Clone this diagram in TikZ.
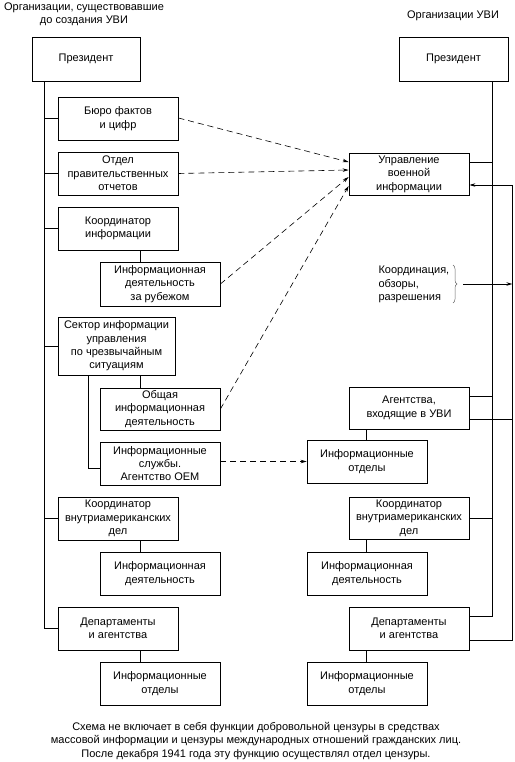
\documentclass[tikz,border=0pt]{standalone}
\usepackage{fontspec}
\setmainfont{Liberation Sans}
\usetikzlibrary{arrows.meta,decorations.pathreplacing}
\begin{document}
\begin{tikzpicture}[x=1pt,y=-1pt,
  font=\fontsize{11}{13.4}\selectfont,
  bx/.style={draw, line width=0.8pt, align=center, inner sep=0pt, minimum width=120pt, minimum height=43pt},
  ln/.style={line width=0.8pt},
  dsh/.style={line width=0.6pt, dash pattern=on 6pt off 4pt, -{Stealth[length=6pt,width=3.5pt]}},
  ar/.style={line width=0.8pt, -{Stealth[length=6pt,width=3.5pt]}}]
\useasboundingbox (0,0) rectangle (514,762);

% titles
\node[align=center] (tl) at (84,14) {Организации, существовавшие\\до создания УВИ};
\node (tr) at (453,16) {Организации УВИ};

% left column
\node[bx, minimum width=108pt, minimum height=44pt] (lp) at (86,59) {Президент};
\node[bx] (b1) at (118,118.5) {Бюро фактов\\и цифр};
\node[bx] (b2) at (118,173.5) {Отдел\\правительственных\\отчетов};
\node[bx] (b3) at (118,228.5) {Координатор\\информации};
\node[bx, minimum height=44pt] (b4) at (160,284) {Информационная\\деятельность\\за рубежом};
\node[bx, minimum width=117pt, minimum height=58pt] (b5) at (116.5,346) {Сектор информации\\управления\\по чрезвычайным\\ситуациям};
\node[bx, minimum height=42pt] (b6) at (160,409) {Общая\\информационная\\деятельность};
\node[bx] (b7) at (160,463.5) {Информационные\\службы.\\Агентство ОЕМ};
\node[bx] (b8) at (118,518.5) {Координатор\\внутриамериканских\\дел};
\node[bx] (b9) at (160,573.5) {Информационная\\деятельность};
\node[bx] (b10) at (118,628.5) {Департаменты\\и агентства};
\node[bx] (b11) at (160,683.5) {Информационные\\отделы};

% right column
\node[bx, minimum width=109pt, minimum height=44pt] (rp) at (453.5,59) {Президент};
\node[bx, minimum height=42pt] (r1) at (409,174) {Управление\\военной\\информации};
\node[bx, minimum height=42pt] (r2) at (409,408) {Агентства,\\входящие в УВИ};
\node[bx] (r3) at (367,461.5) {Информационные\\отделы};
\node[bx, minimum height=42pt] (r4) at (409,518) {Координатор\\внутриамериканских\\дел};
\node[bx] (r5) at (367,573.5) {Информационная\\деятельность};
\node[bx] (r6) at (409,628.5) {Департаменты\\и агентства};
\node[bx] (r7) at (367,683.5) {Информационные\\отделы};

% left trunk
\coordinate (tL) at ([xshift=13pt]lp.south west);
\draw[ln] (tL) |- (b10.west);
\foreach \n in {b1,b2,b3,b5,b8} \draw[ln] (tL) |- (\n.west);
\draw[ln] ([xshift=22pt]b3.south) -- ([xshift=22pt]b3.south |- b4.north);
\draw[ln] ([xshift=23.5pt]b5.south) -- ([xshift=23.5pt]b5.south |- b6.north);
\draw[ln] ([xshift=-28.5pt]b5.south) |- ([yshift=-4.5pt]b7.west);
\draw[ln] ([xshift=22pt]b8.south) -- ([xshift=22pt]b8.south |- b9.north);
\draw[ln] ([xshift=22pt]b10.south) -- ([xshift=22pt]b10.south |- b11.north);

% right trunk
\coordinate (tR) at ([xshift=-16pt]rp.south east);
\draw[ln] (tR) |- ([yshift=12.5pt]r6.east);
\draw[ln] (tR) |- ([yshift=12pt]r1.east);
\draw[ln] (tR) |- ([yshift=12pt]r2.east);
\draw[ln] (tR) |- (r4.east);
\draw[ln] ([xshift=-43pt]r2.south) -- ([xshift=-43pt]r2.south |- r3.north);
\draw[ln] ([xshift=-43pt]r4.south) -- ([xshift=-43pt]r4.south |- r5.north);
\draw[ln] ([xshift=-43pt]r6.south) -- ([xshift=-43pt]r6.south |- r7.north);

% second right line
\coordinate (rR) at ([xshift=43pt,yshift=-11pt]r1.east);
\draw[ar] (rR) -- ([yshift=-11pt]r1.east);
\draw[ln] (rR) |- ([yshift=-11.5pt]r6.east);
\draw[ln] ([yshift=-11pt]r2.east) -- ([yshift=-11pt]r2.east -| rR);

% coordination note
\node[align=left, anchor=west] (cn) at (375,284.5) {Координация,\\обзоры,\\разрешения};
\coordinate (brT) at (453,265);
\coordinate (brB) at (453,303);
\draw[decorate, decoration={brace, amplitude=4pt}, line width=0.5pt, black!60] (brT) -- (brB);
\coordinate (bt) at (463,284);
\draw[ar] (bt) -- (bt -| rR);

% dashed arrows
\draw[dsh] ([yshift=0.5pt]b1.east) -- ([yshift=12pt]r1.west);
\draw[dsh] (b2.east) -- ([yshift=4pt]r1.west);
\draw[dsh] (b4.east) -- ([yshift=-3pt]r1.west);
\draw[dsh] (b6.east) -- ([yshift=-12pt]r1.west);
\draw[dsh] ([yshift=2pt]b7.east) -- (r3.west);

% caption
\node[align=center] (cap) at (256,741) {Схема не включает в себя функции добровольной цензуры в средствах\\массовой информации и цензуры международных отношений гражданских лиц.\\После декабря 1941 года эту функцию осуществлял отдел цензуры.};
\end{tikzpicture}
\end{document}
